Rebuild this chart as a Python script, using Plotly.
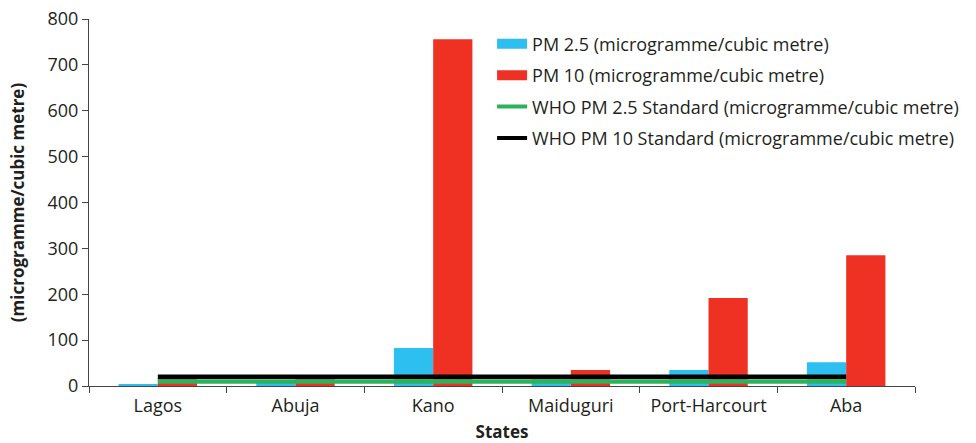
import plotly.graph_objects as go

states = ["Lagos", "Abuja", "Kano", "Maiduguri", "Port-Harcourt", "Aba"]
pm25 = [4, 8, 83, 15, 35, 52]
pm10 = [17, 17, 756, 35, 192, 285]
who_pm25 = [10, 10, 10, 10, 10, 10]
who_pm10 = [20, 20, 20, 20, 20, 20]

name_pm25 = "PM 2.5 (microgramme/cubic metre)"
name_pm10 = "PM 10 (microgramme/cubic metre)"
name_who25 = "WHO PM 2.5 Standard (microgramme/cubic metre)"
name_who10 = "WHO PM 10 Standard (microgramme/cubic metre)"

c_pm25 = "#2dbfef"
c_pm10 = "#ef3124"
c_who25 = "#2bb35c"
c_who10 = "#000000"
text_c = "#231f20"
font_family = "Open Sans, Noto Sans, sans-serif"
fsize = 18

fig = go.Figure()
fig.add_trace(go.Bar(x=states, y=pm25, name=name_pm25, marker_color=c_pm25,
                     marker_line_width=0, showlegend=False))
fig.add_trace(go.Bar(x=states, y=pm10, name=name_pm10, marker_color=c_pm10,
                     marker_line_width=0, showlegend=False))
fig.add_trace(go.Scatter(x=states, y=who_pm25, name=name_who25, mode="lines",
                         line=dict(color=c_who25, width=4.5), showlegend=False))
fig.add_trace(go.Scatter(x=states, y=who_pm10, name=name_who10, mode="lines",
                         line=dict(color=c_who10, width=4.5), showlegend=False))

# legend entries: wide swatches for the bars, thin strokes for the standards
for i, (name, color, w) in enumerate([(name_pm25, c_pm25, 11), (name_pm10, c_pm10, 11),
                                      (name_who25, c_who25, 4), (name_who10, c_who10, 4)]):
    fig.add_trace(go.Scatter(x=[None], y=[None], mode="lines", name=name,
                             legendgroup=f"g{i}",
                             line=dict(color=color, width=w), showlegend=True))

fig.update_layout(
    width=976, height=443,
    margin=dict(l=89, r=59, t=19, b=57),
    plot_bgcolor="white", paper_bgcolor="white",
    font=dict(family=font_family, size=fsize, color=text_c),
    barmode="group", bargap=0.43, bargroupgap=0,
    legend=dict(x=0.488, y=0.982, xanchor="left", yanchor="top",
                bgcolor="rgba(0,0,0,0)", font=dict(size=fsize),
                tracegroupgap=5, itemwidth=30),
)
fig.update_xaxes(
    automargin=False,
    showline=True, linecolor="#444", linewidth=1.2,
    ticks="outside", tickson="boundaries", ticklen=6, tickcolor="#444",
    ticklabelstandoff=3,
    title=dict(text="<b>States</b>", font=dict(size=17), standoff=14),
    showgrid=False,
)
fig.update_yaxes(
    automargin=False,
    range=[0, 800], dtick=100, showline=True, linecolor="#444", linewidth=1.2,
    ticks="outside", ticklen=6, tickcolor="#444", showgrid=False, zeroline=False,
    title=dict(text="<b>(microgramme/cubic metre)</b>", font=dict(size=17), standoff=18),
)

fig.write_html("out.html")
